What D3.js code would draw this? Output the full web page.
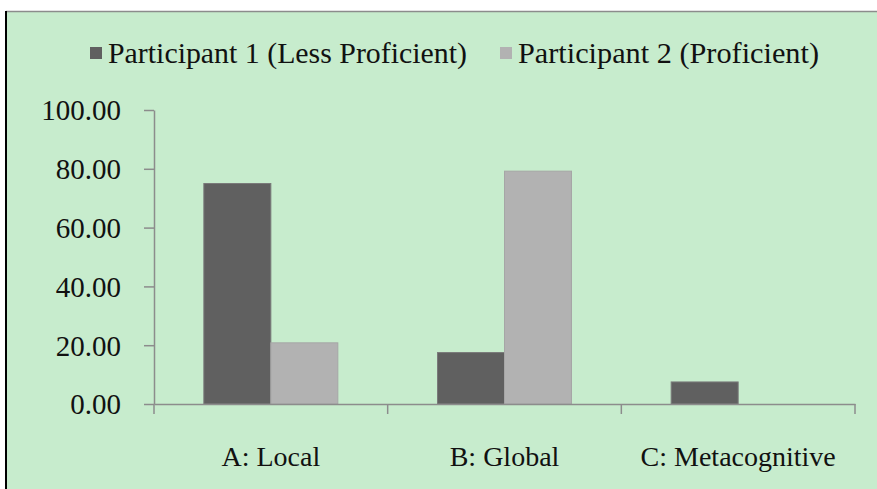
<!DOCTYPE html>
<html>
<head>
<meta charset="utf-8">
<title>Reading strategies</title>
<script src="https://cdn.jsdelivr.net/npm/d3@7"></script>
<style>
  body { margin: 0; background: #fff; }
  text { font-family: "Liberation Serif", "Times New Roman", serif; fill: #111; }
</style>
</head>
<body>
<svg id="diagram" width="877" height="489"></svg>
<script>
// data
var categories = ["A: Local", "B: Global", "C: Metacognitive"];
var seriesNames = ["Participant 1 (Less Proficient)", "Participant 2 (Proficient)"];
var participant1 = [75.0, 17.5, 7.5];
var participant2 = [20.8, 79.2, 0.0];
var yTicks = [0, 20, 40, 60, 80, 100];

var colors = ["#606060", "#b2b2b2"];
var strokes = ["#7a7a7a", "#a6a6a6"];

var svg = d3.select("#diagram");

// frame
svg.append("rect")
    .attr("x", 6).attr("y", 11)
    .attr("width", 871).attr("height", 478)
    .attr("fill", "#c7eccd");
svg.append("line")
    .attr("x1", 6).attr("x2", 877).attr("y1", 11.5).attr("y2", 11.5)
    .attr("stroke", "#8c8c8c").attr("stroke-width", 1.5);
svg.append("line")
    .attr("x1", 6).attr("x2", 6).attr("y1", 11).attr("y2", 489)
    .attr("stroke", "#000").attr("stroke-width", 2);

// scales
var plotLeft = 154, plotRight = 855, plotTop = 110, plotBottom = 404;

var xScale = d3.scaleBand().domain(categories).range([plotLeft, plotRight]).padding(0);
var xInner = d3.scaleBand().domain([0, 1]).range([0, xScale.bandwidth()])
    .paddingInner(0).paddingOuter(0.744);
var yScale = d3.scaleLinear().domain([0, 100]).range([plotBottom, plotTop]);

// y axis
var yAxis = svg.append("g")
    .attr("transform", "translate(" + plotLeft + ",0)")
    .call(d3.axisLeft(yScale).tickValues(yTicks).tickFormat(d3.format(".2f"))
        .tickSize(10).tickSizeOuter(0).tickPadding(23));
yAxis.select(".domain").attr("stroke", "#8c8c8c").attr("stroke-width", 1.5);
yAxis.selectAll(".tick line").attr("stroke", "#8c8c8c").attr("stroke-width", 1.5);
yAxis.selectAll(".tick text")
    .style("font-family", "Liberation Serif, serif")
    .style("font-size", "29px")
    .attr("fill", "#111")
    .attr("dy", "0.34em");

// bars
var rows = categories.map(function (c, i) {
    return [participant1[i], participant2[i]];
});

var groups = svg.selectAll(".grp")
    .data(rows)
    .enter().append("g")
    .attr("class", "grp")
    .attr("transform", function (d, i) {
        return "translate(" + xScale(categories[i]) + ",0)";
    });

groups.selectAll("rect")
    .data(function (d) { return d; })
    .enter().append("rect")
    .filter(function (d) { return d > 0; })
    .attr("x", function (d, j) { return xInner(j); })
    .attr("y", function (d) { return yScale(d); })
    .attr("width", xInner.bandwidth())
    .attr("height", function (d) { return plotBottom - yScale(d); })
    .attr("fill", function (d, j) { return colors[j]; })
    .attr("stroke", function (d, j) { return strokes[j]; })
    .attr("stroke-width", 1);

// x axis
var xAxis = svg.append("g")
    .attr("transform", "translate(0," + plotBottom + ")")
    .call(d3.axisBottom(xScale).tickSize(0).tickPadding(42));
xAxis.select(".domain").attr("stroke", "#8c8c8c").attr("stroke-width", 1.5);
xAxis.selectAll(".tick text")
    .style("font-family", "Liberation Serif, serif")
    .style("font-size", "28px")
    .attr("fill", "#111");

var edges = categories.map(function (c) { return xScale(c); }).concat([plotRight]);
svg.append("g").selectAll("line")
    .data(edges)
    .enter().append("line")
    .attr("x1", function (d) { return d; })
    .attr("x2", function (d) { return d; })
    .attr("y1", plotBottom)
    .attr("y2", plotBottom + 10)
    .attr("stroke", "#8c8c8c")
    .attr("stroke-width", 1.5);

// legend
var legendX = [90, 500];
var legendTextW = [359, 301];
var legend = svg.append("g").selectAll("g")
    .data(seriesNames)
    .enter().append("g")
    .attr("transform", function (d, i) { return "translate(" + legendX[i] + ",0)"; });

legend.append("rect")
    .attr("x", 0).attr("y", 47)
    .attr("width", 12).attr("height", 12)
    .attr("fill", function (d, i) { return colors[i]; });

legend.append("text")
    .attr("x", 18)
    .attr("y", 63)
    .style("font-size", "29px")
    .attr("textLength", function (d, i) { return legendTextW[i]; })
    .attr("lengthAdjust", "spacingAndGlyphs")
    .text(function (d) { return d; });
</script>
</body>
</html>
